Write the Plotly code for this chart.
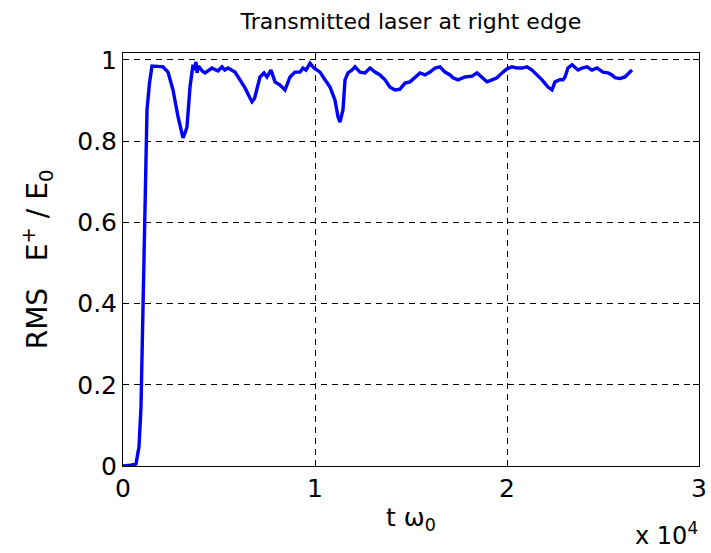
import plotly.graph_objects as go

# Time samples (t * omega_0) and RMS transmitted field E+/E0 at the right edge
t_omega = [0, 52, 400, 677, 729, 833, 937, 1042, 1146, 1198, 1250, 1380, 1510, 1800,
           2083, 2344, 2604, 2865, 3000, 3125, 3230, 3333, 3490, 3594, 3646, 3720, 3802,
           3854, 3930, 4010, 4140, 4271, 4450, 4635, 4800, 4948, 5156, 5300, 5469, 5833,
           6094, 6354, 6615, 6719, 6850, 6979, 7135, 7344, 7500, 7708, 7917, 8177, 8438,
           8698, 8958, 9219, 9375, 9531, 9740, 9948, 10260, 10521, 10781, 11042, 11198,
           11302, 11458, 11563, 11719, 11927, 12083, 12344, 12604, 12865, 13125, 13385,
           13646, 13906, 14167, 14427, 14688, 14948, 15208, 15469, 15729, 15990, 16250,
           16510, 16771, 17031, 17188, 17448, 17813, 18177, 18438, 18698, 18958, 19219,
           19479, 19740, 20000, 20260, 20521, 20781, 21042, 21302, 21563, 21823, 22135,
           22344, 22500, 22760, 22917, 23021, 23177, 23385, 23698, 23906, 24167, 24427,
           24688, 25000, 25260, 25469, 25625, 25885, 26146, 26250, 26406, 26510]
rms_e = [0.0, 0.0, 0.002, 0.005, 0.02, 0.047, 0.145, 0.40, 0.675, 0.80, 0.877, 0.943,
         0.985, 0.984, 0.983, 0.970, 0.926, 0.860, 0.830, 0.808, 0.820, 0.835, 0.933,
         0.963, 0.988, 0.975, 0.995, 0.968, 0.985, 0.980, 0.972, 0.968, 0.975, 0.980,
         0.976, 0.973, 0.983, 0.975, 0.980, 0.970, 0.951, 0.931, 0.906, 0.897, 0.905,
         0.926, 0.958, 0.968, 0.958, 0.975, 0.946, 0.938, 0.926, 0.958, 0.970, 0.970,
         0.980, 0.975, 0.992, 0.980, 0.970, 0.951, 0.933, 0.901, 0.860, 0.847, 0.877,
         0.951, 0.968, 0.975, 0.983, 0.970, 0.968, 0.980, 0.970, 0.963, 0.951, 0.933,
         0.926, 0.928, 0.943, 0.946, 0.956, 0.968, 0.963, 0.970, 0.980, 0.983, 0.970,
         0.963, 0.956, 0.951, 0.958, 0.960, 0.968, 0.958, 0.946, 0.951, 0.956, 0.968,
         0.978, 0.983, 0.980, 0.980, 0.983, 0.975, 0.963, 0.951, 0.933, 0.926, 0.946,
         0.951, 0.951, 0.958, 0.980, 0.988, 0.975, 0.980, 0.983, 0.975, 0.980, 0.970,
         0.968, 0.963, 0.956, 0.954, 0.958, 0.963, 0.968, 0.975, 0.973]

x_ticks = [0, 10000, 20000, 30000]
x_tick_labels = ["0", "1", "2", "3"]
y_ticks = [0, 0.2, 0.4, 0.6, 0.8, 1.0]
y_tick_labels = ["0", "0.2", "0.4", "0.6", "0.8", "1"]

font_family = "DejaVu Sans, Arial, sans-serif"

fig = go.Figure()
fig.add_trace(go.Scatter(
    x=t_omega, y=rms_e, mode="lines",
    line=dict(color="rgb(0,0,255)", width=3.4),
    showlegend=False,
))

axis_common = dict(
    showline=True, linecolor="black", linewidth=1, mirror="ticks",
    ticks="inside", ticklen=6, tickcolor="black",
    showgrid=True, gridcolor="black", gridwidth=0.7, griddash="6px,5px",
    zeroline=False, automargin=False,
    tickfont=dict(family=font_family, size=25, color="black"),
)

fig.update_layout(
    width=711, height=553,
    margin=dict(l=123, r=12, t=53, b=87),
    paper_bgcolor="white", plot_bgcolor="white",
    title=dict(text="Transmitted laser at right edge", x=0.578, xanchor="center",
               y=0.962, yanchor="middle",
               font=dict(family=font_family, size=22, color="black")),
    xaxis=dict(range=[0, 30000], tickvals=x_ticks, ticktext=x_tick_labels,
               **axis_common),
    yaxis=dict(range=[0, 1.017], tickvals=y_ticks, ticktext=y_tick_labels,
               **axis_common),
    annotations=[
        dict(text="t ω<sub>0</sub>", xref="paper", yref="paper",
             x=0.5, y=-0.128, xanchor="center", yanchor="middle", showarrow=False,
             font=dict(family=font_family, size=25, color="black")),
        dict(text="RMS   E<sup>+</sup> / E<sub>0</sub>", xref="paper", yref="paper",
             x=-0.148, y=0.5, xanchor="center", yanchor="middle", showarrow=False,
             textangle=-90,
             font=dict(family=font_family, size=28, color="black")),
        dict(text="x 10<sup>4</sup>", xref="paper", yref="paper",
             x=1.002, y=-0.165, xanchor="right", yanchor="middle", showarrow=False,
             font=dict(family=font_family, size=24, color="black")),
    ],
)

fig.write_html("out.html")
